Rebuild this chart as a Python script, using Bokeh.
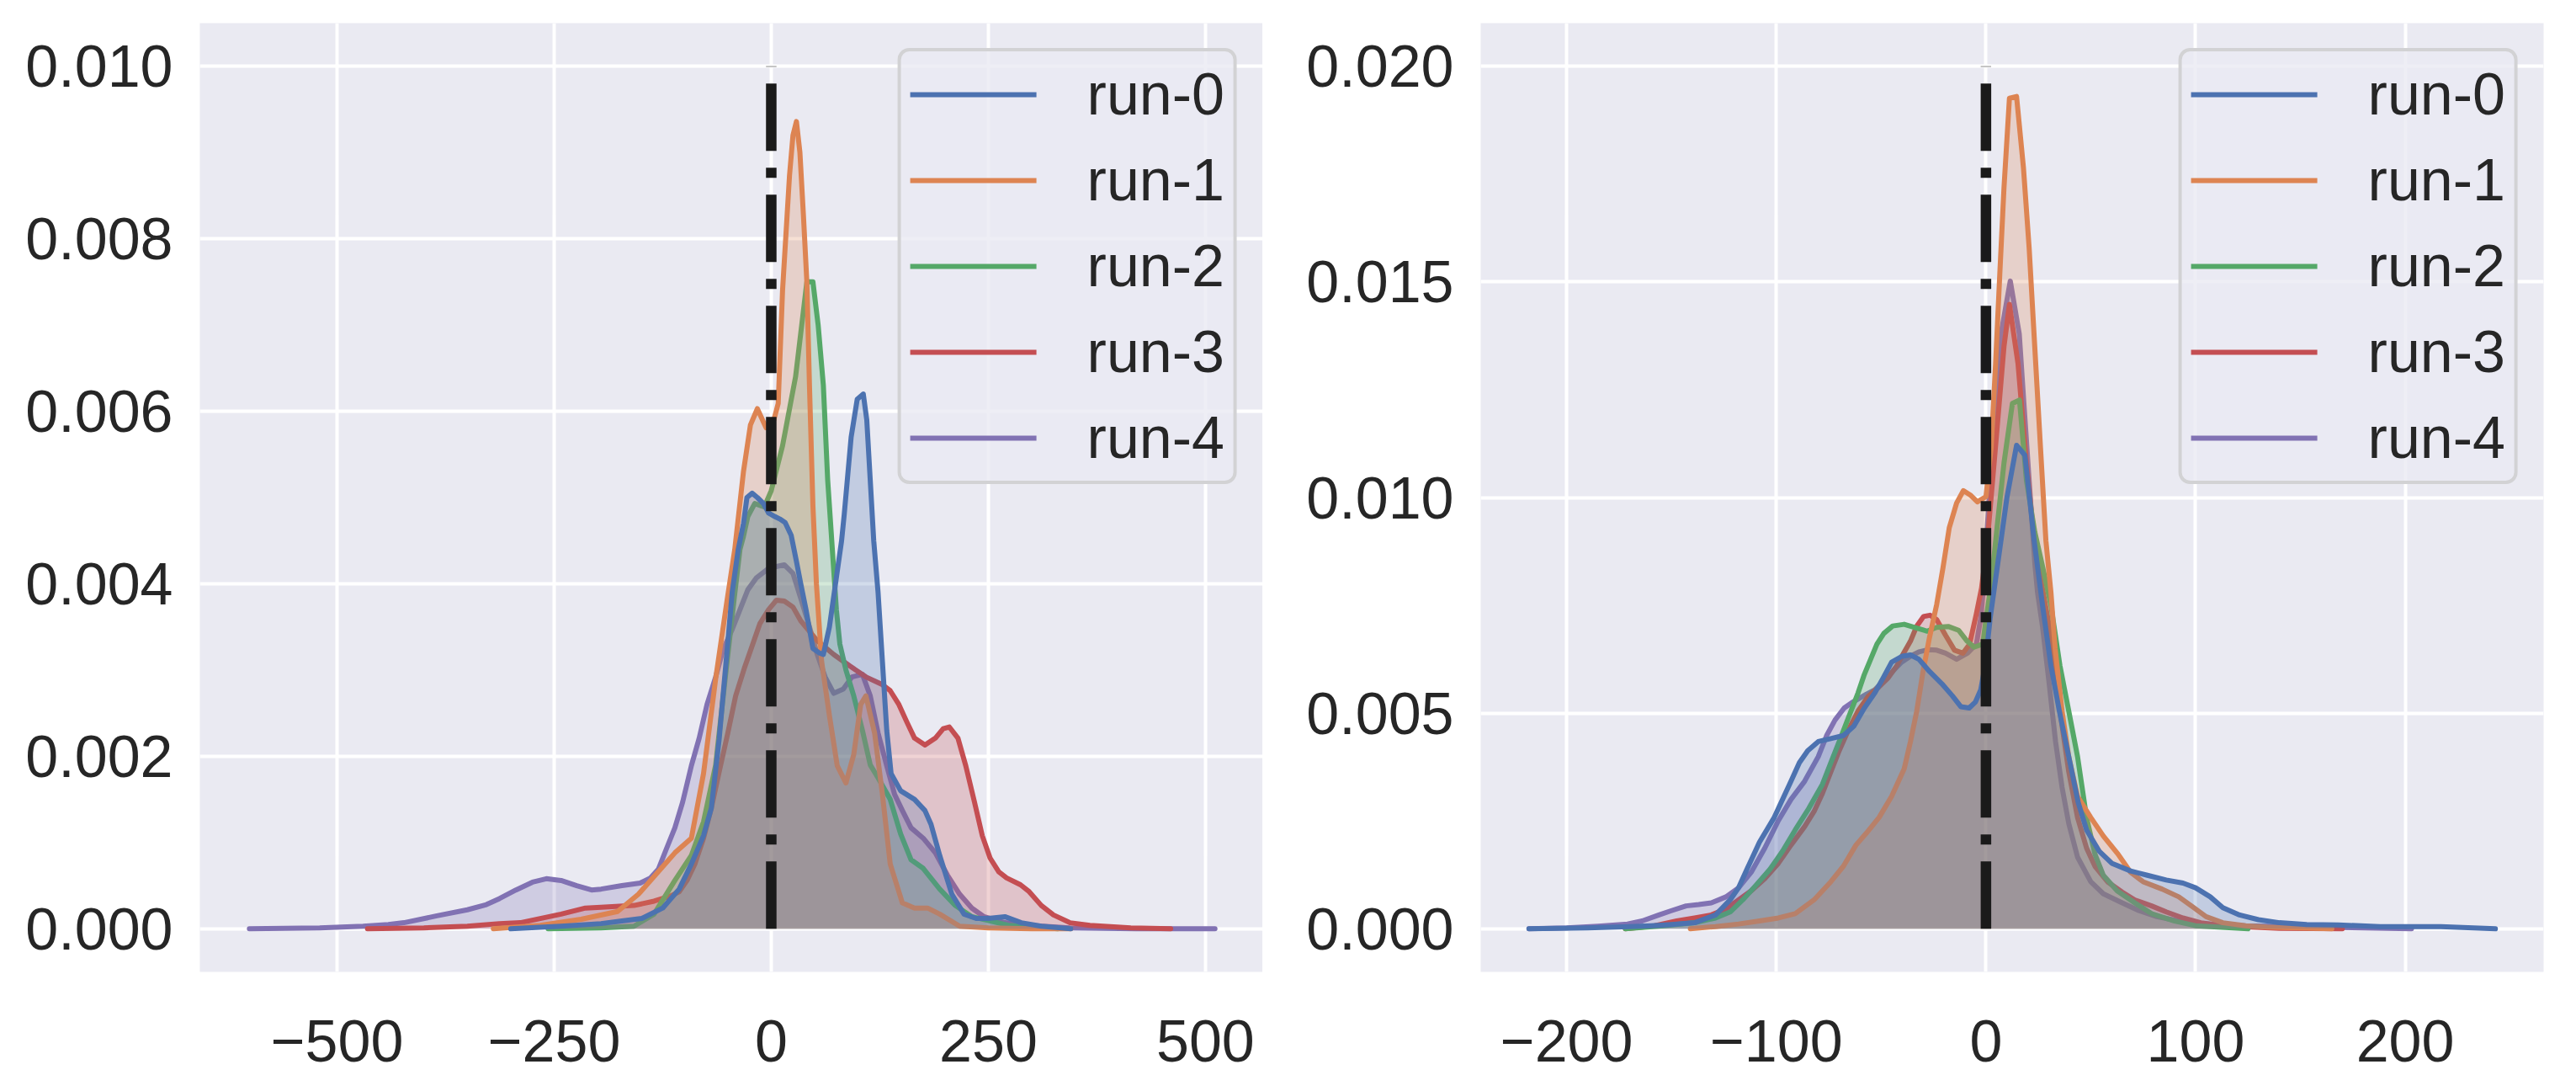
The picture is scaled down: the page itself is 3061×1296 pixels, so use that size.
from bokeh.plotting import figure
from bokeh.layouts import row
from bokeh.models import Legend, LegendItem, FixedTicker, CustomJSTickFormatter, Range1d
from bokeh.embed import file_html
from bokeh.resources import INLINE

# ---------------- data ----------------
RUN_LABELS = ["run-0", "run-1", "run-2", "run-3", "run-4"]
RUN_COLORS = ["#4C72B0", "#DD8452", "#55A868", "#C44E52", "#8172B3"]

# left panel
L0_X = [-300, -242, -196, -172, -149, -125, -106, -92, -78, -69, -60, -52, -45, -38, -32, -28, -22, -16, -9, -3, 4, 10, 16, 23, 29, 34, 40, 48, 55, 60, 67, 74, 81, 84, 92, 99, 106, 110, 114, 118, 123, 128, 133, 138, 149, 165, 177, 184, 194, 208, 222, 236, 250, 269, 288, 311, 345]
L0_Y = [0.0, 0.00003, 0.00006, 0.00009, 0.00012, 0.00024, 0.00046, 0.00075, 0.00108, 0.0014, 0.0022, 0.0031, 0.0039, 0.0044, 0.0047, 0.0050, 0.00505, 0.0050, 0.00493, 0.00482, 0.00478, 0.00475, 0.00471, 0.00456, 0.00426, 0.0040, 0.0037, 0.00325, 0.0032, 0.00318, 0.0035, 0.0040, 0.0045, 0.0048, 0.0057, 0.00614, 0.0062, 0.0059, 0.0052, 0.0045, 0.0039, 0.0031, 0.0023, 0.0018, 0.0016, 0.0015, 0.00137, 0.00121, 0.00085, 0.0004, 0.00017, 0.00012, 0.00012, 0.00014, 0.00007, 0.00003, 0.0]

L1_X = [-320, -266, -219, -177, -153, -125, -111, -92, -78, -64, -51, -42, -32, -24, -16, -6, 3, 8, 13, 21, 25, 29, 33, 37, 41, 44, 48, 52, 58, 67, 76, 86, 95, 103, 109, 119, 128, 137, 151, 165, 180, 194, 217, 250, 300, 345]
L1_Y = [0.0, 0.00004, 0.00011, 0.0002, 0.0004, 0.00072, 0.00088, 0.00105, 0.0018, 0.0029, 0.0038, 0.0044, 0.0053, 0.00584, 0.00603, 0.00581, 0.0059, 0.00609, 0.0074, 0.00873, 0.0092, 0.00936, 0.0090, 0.00828, 0.0075, 0.0063, 0.0049, 0.0040, 0.0031, 0.00247, 0.00189, 0.00169, 0.00202, 0.0026, 0.0027, 0.00227, 0.00156, 0.00075, 0.0003, 0.00024, 0.00024, 0.00017, 0.00003, 0.00001, 0.0, 0.0]

L2_X = [-257, -196, -158, -135, -111, -92, -78, -64, -52, -43, -36, -32, -27, -19, -8, 0, 13, 28, 41, 48, 54, 60, 65, 71, 75, 79, 86, 95, 105, 114, 123, 137, 149, 161, 175, 194, 212, 231, 273, 330]
L2_Y = [0.0, 0.00001, 0.00003, 0.00017, 0.00056, 0.00085, 0.00124, 0.0019, 0.0030, 0.0038, 0.0044, 0.00455, 0.00478, 0.00493, 0.00489, 0.00508, 0.0056, 0.0064, 0.0075, 0.0075, 0.0070, 0.0063, 0.0052, 0.0043, 0.0037, 0.0033, 0.0030, 0.0027, 0.0023, 0.0019, 0.00175, 0.0015, 0.0011, 0.0008, 0.0007, 0.00046, 0.00027, 0.00014, 0.00004, 0.0]

L3_X = [-465, -400, -350, -313, -289, -242, -214, -196, -158, -135, -116, -106, -97, -88, -78, -69, -60, -50, -41, -31, -22, -13, -3, 6, 15, 25, 34, 53, 72, 90, 109, 128, 137, 147, 156, 165, 177, 189, 198, 205, 215, 224, 234, 243, 252, 262, 271, 287, 297, 311, 325, 344, 367, 414, 460]
L3_Y = [0.0, 0.00001, 0.00003, 0.00006, 0.00007, 0.00017, 0.00024, 0.00025, 0.00027, 0.00032, 0.00038, 0.00043, 0.00056, 0.00075, 0.00105, 0.0014, 0.00182, 0.00227, 0.0027, 0.00302, 0.00328, 0.00354, 0.0037, 0.00381, 0.0038, 0.00373, 0.00357, 0.00334, 0.00318, 0.00305, 0.00292, 0.00283, 0.00276, 0.0026, 0.0024, 0.00221, 0.00213, 0.00221, 0.00232, 0.00234, 0.00221, 0.00189, 0.00147, 0.00108, 0.00082, 0.00066, 0.00059, 0.00051, 0.00043, 0.00027, 0.00016, 0.00007, 0.00004, 0.00001, 0.0]

L4_X = [-601, -520, -470, -441, -423, -385, -350, -328, -313, -294, -275, -259, -242, -224, -207, -196, -172, -151, -139, -130, -121, -111, -102, -92, -83, -74, -64, -55, -45, -36, -27, -17, -3, 6, 15, 25, 34, 44, 53, 62, 72, 83, 93, 105, 114, 123, 133, 142, 151, 161, 175, 189, 203, 217, 231, 245, 269, 297, 344, 420, 511]
L4_Y = [0.0, 0.00001, 0.00003, 0.00005, 0.00007, 0.00015, 0.00022, 0.00028, 0.00035, 0.00045, 0.00054, 0.00058, 0.00056, 0.0005, 0.00045, 0.00046, 0.0005, 0.00053, 0.00059, 0.00069, 0.00092, 0.00117, 0.00147, 0.00189, 0.00221, 0.0026, 0.00292, 0.00325, 0.00347, 0.0037, 0.00393, 0.00407, 0.00418, 0.0042, 0.00422, 0.00412, 0.00383, 0.0035, 0.00318, 0.00292, 0.00273, 0.00278, 0.00292, 0.00295, 0.0027, 0.00227, 0.00189, 0.00156, 0.00137, 0.00117, 0.00105, 0.00088, 0.00062, 0.0004, 0.00024, 0.00014, 0.00007, 0.00004, 0.00001, 0.0, 0.0]

# right panel
R0_X = [-218, -190, -170, -160, -150, -139, -129, -122, -118, -114, -108, -101, -97, -93, -89, -85, -80, -74, -68, -63, -58, -53, -49, -45, -40, -36, -32, -27, -21, -16, -12, -8, -5, -2.5, -0.4, 2, 6, 10, 14.6, 18.6, 23, 27, 31, 35, 39.5, 44, 48, 54, 60, 69, 77, 86, 94, 100, 107, 113, 121, 130, 140, 153, 168, 188, 217, 243]
R0_Y = [0.0, 0.00002, 0.00005, 0.00007, 0.0001, 0.00014, 0.00032, 0.00067, 0.00095, 0.00138, 0.00201, 0.00258, 0.003, 0.00342, 0.00385, 0.00413, 0.00434, 0.00441, 0.00448, 0.0047, 0.00512, 0.00547, 0.00582, 0.00618, 0.00632, 0.00635, 0.00625, 0.00597, 0.00568, 0.0054, 0.00515, 0.00512, 0.00526, 0.00554, 0.0061, 0.0072, 0.0086, 0.0100, 0.01121, 0.01098, 0.0090, 0.0075, 0.0061, 0.00505, 0.00399, 0.00293, 0.00229, 0.0018, 0.00152, 0.00134, 0.00124, 0.00113, 0.00106, 0.00095, 0.00074, 0.00049, 0.00032, 0.00021, 0.00014, 0.0001, 0.00009, 0.00005, 0.00005, 0.0]

R1_X = [-141, -129, -118, -108, -99, -91, -82, -74, -68, -62, -57, -51, -45, -39, -36, -33, -30, -27, -23.5, -20.5, -17.5, -14, -10.8, -7.5, -4.1, 0, 2.5, 4.6, 6.6, 8.6, 11.2, 14.6, 17.9, 20.6, 23.3, 26, 28.6, 31, 33, 36.3, 39.5, 43.7, 50, 56, 63, 69, 75, 84, 92, 98, 105, 113, 124, 134, 165]
R1_Y = [0.0, 0.00005, 0.00011, 0.00018, 0.00025, 0.00035, 0.00067, 0.00109, 0.00145, 0.00194, 0.00222, 0.00258, 0.00307, 0.00371, 0.00434, 0.00505, 0.00597, 0.00674, 0.00752, 0.00837, 0.0093, 0.00987, 0.01016, 0.01006, 0.0099, 0.01002, 0.01117, 0.0131, 0.01518, 0.01718, 0.01926, 0.0193, 0.01764, 0.01579, 0.01348, 0.01117, 0.0090, 0.0078, 0.0065, 0.00505, 0.00399, 0.00307, 0.00258, 0.00215, 0.00173, 0.00131, 0.00109, 0.00092, 0.00074, 0.00053, 0.00028, 0.00014, 0.00007, 0.00004, 0.0]

R2_X = [-172, -154, -139, -129, -122, -116, -110, -103, -97, -91, -84.5, -78, -74, -70, -65.5, -61, -58, -55, -52, -48.7, -44.5, -39, -33, -28, -23.5, -18, -13, -9, -5.7, -1.5, 0, 2.5, 5.5, 8.6, 12.6, 16, 19.3, 23.3, 27, 31, 35.3, 39.5, 43.7, 48, 52, 56, 62.6, 71, 79, 90, 100, 125]
R2_Y = [0.0, 0.00007, 0.00014, 0.00025, 0.00039, 0.00067, 0.00099, 0.00138, 0.0018, 0.00229, 0.00279, 0.00335, 0.00385, 0.00434, 0.00491, 0.00547, 0.0059, 0.00625, 0.0066, 0.00685, 0.00702, 0.00706, 0.00697, 0.0069, 0.00699, 0.00701, 0.00692, 0.00667, 0.00653, 0.0066, 0.00717, 0.0080, 0.0094, 0.0108, 0.01218, 0.01226, 0.0104, 0.0092, 0.0084, 0.0075, 0.0061, 0.00505, 0.00399, 0.00258, 0.00173, 0.00124, 0.00088, 0.0006, 0.00035, 0.00018, 0.00007, 0.0]

R3_X = [-172, -158, -147.5, -139, -131, -124, -118, -112, -105.5, -99, -93, -86.5, -82, -78, -74, -70, -65.5, -61, -56, -51, -46.6, -42.4, -39.3, -36, -33, -29.8, -26.7, -23.5, -19.3, -15, -11, -7.8, -4.6, -2.1, 0.5, 4.6, 8.6, 11.2, 15.3, 19.3, 23.3, 27.3, 31, 35.3, 39.5, 43.7, 48, 52, 58, 65, 71, 79, 86, 94, 102.5, 113, 140, 170]
R3_Y = [0.0, 0.00007, 0.00018, 0.00025, 0.00032, 0.00046, 0.00067, 0.00088, 0.00116, 0.00152, 0.00194, 0.00237, 0.00272, 0.00314, 0.00364, 0.00413, 0.00462, 0.00505, 0.0054, 0.00561, 0.00582, 0.00611, 0.00639, 0.00667, 0.00702, 0.00724, 0.00727, 0.00717, 0.00681, 0.00646, 0.00639, 0.0066, 0.0073, 0.0079, 0.0089, 0.0112, 0.0135, 0.01448, 0.0131, 0.01079, 0.0089, 0.0078, 0.0068, 0.00505, 0.00364, 0.00258, 0.00187, 0.00145, 0.00109, 0.00085, 0.00067, 0.00053, 0.00039, 0.00025, 0.00014, 0.00007, 0.00001, 0.0]

R4_X = [-218, -200, -185, -171, -164, -156, -150, -143, -137, -131, -124, -118, -112, -105.5, -99, -93, -86.5, -80, -76, -72, -67.6, -63.4, -57, -53, -48.7, -44.5, -40.3, -36, -32, -27.7, -23.5, -19.3, -14, -8.8, -4.6, -2.5, -1, 0.5, 3.9, 7.2, 11.6, 15.9, 17.9, 20.6, 23.3, 24.6, 27, 30, 33.2, 36.3, 39.5, 43.7, 50, 56, 65, 73, 81.5, 92, 102.5, 123.5, 155, 203]
R4_Y = [0.0, 0.00002, 0.00006, 0.00011, 0.00018, 0.00032, 0.00042, 0.00053, 0.00056, 0.0006, 0.00074, 0.00095, 0.00131, 0.00187, 0.00251, 0.003, 0.00342, 0.00399, 0.00448, 0.00484, 0.00512, 0.00526, 0.00544, 0.00554, 0.00575, 0.00597, 0.00618, 0.00632, 0.00642, 0.00647, 0.00646, 0.00639, 0.00625, 0.00639, 0.0066, 0.0072, 0.0080, 0.0092, 0.0118, 0.0138, 0.01502, 0.01379, 0.01233, 0.0104, 0.00848, 0.0078, 0.0070, 0.00575, 0.00434, 0.00328, 0.00244, 0.00166, 0.00109, 0.00081, 0.0006, 0.00042, 0.00028, 0.00018, 0.00012, 0.00007, 0.00004, 0.0]

LEFT_XTICKS = [-500, -250, 0, 250, 500]
LEFT_YTICKS = [0.0, 0.002, 0.004, 0.006, 0.008, 0.010]
RIGHT_XTICKS = [-200, -100, 0, 100, 200]
RIGHT_YTICKS = [0.0, 0.005, 0.010, 0.015, 0.020]

LEFT_XRANGE = (-658, 566)
LEFT_YRANGE = (-0.0005, 0.0105)
RIGHT_XRANGE = (-241, 266)
RIGHT_YRANGE = (-0.001, 0.021)

VLINE_X = 0
LEFT_VLINE_TOP = 0.010
RIGHT_VLINE_TOP = 0.020

# ---------------- styling ----------------
FONT = "Liberation Sans"
FONT_SIZE = "70px"
TEXT_COLOR = "#262626"
BG = "#EAEAF2"

X_FMT = CustomJSTickFormatter(code="""
const v = Math.round(tick);
return v < 0 ? "\\u2212" + Math.abs(v) : String(v);
""")
Y_FMT = CustomJSTickFormatter(code="return Math.abs(tick) < 1e-12 ? '0.000' : tick.toFixed(3);")


def make_panel(xs, ys, xrange_, yrange_, xticks, yticks, vtop, border_left, border_right):
    p = figure(
        frame_width=1263, frame_height=1127,
        x_range=Range1d(*xrange_), y_range=Range1d(*yrange_),
        output_backend="svg", toolbar_location=None,
        min_border_left=border_left, min_border_right=border_right,
        min_border_top=27, min_border_bottom=126,
    )
    p.background_fill_color = BG
    p.border_fill_color = "white"
    p.outline_line_color = None

    for ax in (p.xaxis[0], p.yaxis[0]):
        ax.axis_line_color = None
        ax.major_tick_line_color = None
        ax.minor_tick_line_color = None
        ax.major_tick_out = 0
        ax.major_tick_in = 0
        ax.minor_tick_out = 0
        ax.minor_tick_in = 0
        ax.major_label_text_font = FONT
        ax.major_label_text_font_size = FONT_SIZE
        ax.major_label_text_color = TEXT_COLOR
    p.xaxis[0].ticker = FixedTicker(ticks=xticks)
    p.yaxis[0].ticker = FixedTicker(ticks=yticks)
    p.xaxis[0].formatter = X_FMT
    p.yaxis[0].formatter = Y_FMT
    p.xaxis[0].major_label_standoff = 57
    p.yaxis[0].major_label_standoff = 32

    p.xgrid.grid_line_color = "white"
    p.ygrid.grid_line_color = "white"
    p.xgrid.grid_line_width = 4
    p.ygrid.grid_line_width = 4

    line_renderers = [None] * len(xs)
    for i in reversed(range(len(xs))):
        p.varea(x=xs[i], y1=[0.0] * len(xs[i]), y2=ys[i],
                fill_color=RUN_COLORS[i], fill_alpha=0.25)
        line_renderers[i] = p.line(xs[i], ys[i], line_color=RUN_COLORS[i],
                                   line_width=6, line_join="round", line_cap="round")

    p.segment(x0=[VLINE_X], y0=[0.0], x1=[VLINE_X], y1=[vtop],
              line_color="#1a1a1a", line_width=12.5,
              line_dash="80 20 12 20", line_cap="butt")

    items = [LegendItem(label=RUN_LABELS[i], renderers=[line_renderers[i]])
             for i in range(len(xs))]
    legend = Legend(items=items, location="top_right")
    legend.margin = 30
    legend.padding = 11
    legend.spacing = 22
    legend.glyph_width = 150
    legend.glyph_height = 70
    legend.label_height = 70
    legend.label_standoff = 60
    legend.label_text_font = FONT
    legend.label_text_font_size = FONT_SIZE
    legend.label_text_color = TEXT_COLOR
    legend.background_fill_color = BG
    legend.background_fill_alpha = 0.8
    legend.border_line_color = "#cccccc"
    legend.border_line_alpha = 0.8
    legend.border_line_width = 4
    if "border_radius" in Legend.properties():
        legend.border_radius = 14
    p.add_layout(legend)
    return p


left = make_panel([L0_X, L1_X, L2_X, L3_X, L4_X], [L0_Y, L1_Y, L2_Y, L3_Y, L4_Y],
                  LEFT_XRANGE, LEFT_YRANGE, LEFT_XTICKS, LEFT_YTICKS, LEFT_VLINE_TOP,
                  border_left=237, border_right=0)
right = make_panel([R0_X, R1_X, R2_X, R3_X, R4_X], [R0_Y, R1_Y, R2_Y, R3_Y, R4_Y],
                   RIGHT_XRANGE, RIGHT_YRANGE, RIGHT_XTICKS, RIGHT_YTICKS, RIGHT_VLINE_TOP,
                   border_left=259, border_right=10)

layout = row(left, right)
open("out.html", "w").write(file_html(layout, INLINE))
